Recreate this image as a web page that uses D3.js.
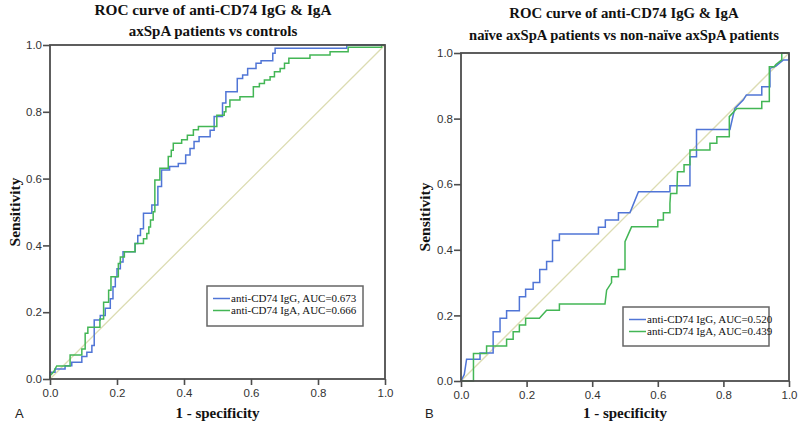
<!DOCTYPE html>
<html><head><meta charset="utf-8">
<script src="https://cdn.jsdelivr.net/npm/d3@7"></script>
<style>body{margin:0;background:#fff}svg{display:block}</style>
</head><body><svg id="c" width="800" height="425"></svg>
<script>
// ---------- data ----------
const tickValues = [0, 0.2, 0.4, 0.6, 0.8, 1.0];
const xAxisTitle = "1 - specificity";
const yAxisTitle = "Sensitivity";
const titleA = ["ROC curve of anti-CD74 IgG & IgA", "axSpA patients vs controls"];
const titleB = ["ROC curve of anti-CD74 IgG & IgA", "naïve axSpA patients vs non-naïve axSpA patients"];
const legendA = ["anti-CD74 IgG, AUC=0.673", "anti-CD74 IgA, AUC=0.666"];
const legendB = ["anti-CD74 IgG, AUC=0.520", "anti-CD74 IgA, AUC=0.439"];
const panelLetters = ["A", "B"];

// [1 - specificity, sensitivity]
const A_IgG = [[0,0],[0,0.02],[0.015,0.02],[0.015,0.03],[0.045,0.03],[0.045,0.04],[0.065,0.04],[0.065,0.05],[0.095,0.05],[0.095,0.067],[0.11,0.067],[0.11,0.08],[0.125,0.08],[0.125,0.1],[0.132,0.1],[0.132,0.177],[0.15,0.177],[0.15,0.19],[0.165,0.19],[0.165,0.212],[0.18,0.212],[0.18,0.24],[0.188,0.24],[0.188,0.276],[0.195,0.276],[0.195,0.306],[0.2,0.306],[0.2,0.33],[0.21,0.33],[0.21,0.35],[0.218,0.35],[0.218,0.381],[0.254,0.381],[0.254,0.406],[0.262,0.406],[0.262,0.43],[0.27,0.43],[0.27,0.45],[0.279,0.45],[0.279,0.496],[0.304,0.496],[0.304,0.521],[0.322,0.521],[0.322,0.576],[0.333,0.576],[0.333,0.626],[0.357,0.626],[0.357,0.636],[0.383,0.636],[0.383,0.645],[0.405,0.645],[0.405,0.671],[0.418,0.671],[0.418,0.69],[0.43,0.69],[0.43,0.711],[0.445,0.711],[0.445,0.725],[0.478,0.725],[0.478,0.745],[0.49,0.745],[0.49,0.786],[0.515,0.786],[0.515,0.826],[0.525,0.826],[0.525,0.86],[0.559,0.86],[0.559,0.9],[0.575,0.9],[0.575,0.91],[0.59,0.91],[0.59,0.93],[0.615,0.93],[0.615,0.945],[0.63,0.945],[0.63,0.953],[0.665,0.953],[0.665,0.975],[0.672,0.975],[0.672,0.99],[0.886,0.99],[0.886,1],[1,1]];
const A_IgA = [[0,0],[0,0.01],[0.01,0.02],[0.02,0.039],[0.06,0.039],[0.06,0.072],[0.095,0.072],[0.095,0.09],[0.105,0.09],[0.105,0.137],[0.113,0.137],[0.113,0.155],[0.149,0.155],[0.149,0.18],[0.16,0.18],[0.16,0.23],[0.175,0.23],[0.175,0.266],[0.182,0.266],[0.182,0.306],[0.204,0.306],[0.204,0.346],[0.21,0.346],[0.21,0.365],[0.222,0.365],[0.222,0.381],[0.254,0.381],[0.254,0.406],[0.279,0.406],[0.279,0.42],[0.289,0.42],[0.289,0.436],[0.295,0.436],[0.295,0.455],[0.3,0.455],[0.3,0.476],[0.308,0.476],[0.308,0.501],[0.313,0.501],[0.313,0.596],[0.328,0.596],[0.328,0.631],[0.353,0.631],[0.353,0.666],[0.362,0.666],[0.362,0.685],[0.368,0.685],[0.368,0.706],[0.393,0.706],[0.393,0.716],[0.41,0.716],[0.41,0.73],[0.428,0.73],[0.428,0.746],[0.443,0.746],[0.443,0.756],[0.498,0.756],[0.498,0.79],[0.52,0.79],[0.52,0.8],[0.525,0.8],[0.525,0.815],[0.537,0.815],[0.537,0.835],[0.567,0.835],[0.567,0.845],[0.607,0.845],[0.607,0.875],[0.625,0.875],[0.625,0.885],[0.64,0.885],[0.64,0.895],[0.657,0.895],[0.657,0.905],[0.67,0.905],[0.67,0.92],[0.687,0.92],[0.687,0.93],[0.7,0.93],[0.7,0.945],[0.713,0.945],[0.713,0.96],[0.776,0.96],[0.776,0.97],[0.836,0.97],[0.836,0.98],[0.89,0.98],[0.89,0.993],[0.99,0.993],[0.99,1],[1,1]];
const B_IgG = [[0,0],[0.01,0.02],[0.017,0.066],[0.058,0.066],[0.058,0.085],[0.098,0.085],[0.098,0.15],[0.119,0.15],[0.119,0.191],[0.139,0.191],[0.139,0.214],[0.178,0.214],[0.178,0.257],[0.197,0.257],[0.197,0.28],[0.22,0.28],[0.22,0.3],[0.24,0.3],[0.24,0.34],[0.261,0.34],[0.261,0.364],[0.279,0.364],[0.279,0.428],[0.3,0.428],[0.3,0.448],[0.419,0.448],[0.419,0.469],[0.44,0.469],[0.44,0.491],[0.48,0.491],[0.48,0.513],[0.515,0.513],[0.53,0.55],[0.541,0.577],[0.637,0.577],[0.637,0.595],[0.698,0.595],[0.698,0.684],[0.718,0.684],[0.718,0.767],[0.82,0.767],[0.83,0.811],[0.835,0.831],[0.861,0.857],[0.87,0.872],[0.917,0.872],[0.917,0.897],[0.942,0.897],[0.942,0.953],[0.96,0.96],[0.983,0.979],[1,0.979],[1,1]];
const B_IgA = [[0,0],[0.038,0],[0.038,0.084],[0.078,0.084],[0.078,0.107],[0.139,0.107],[0.139,0.127],[0.159,0.127],[0.159,0.15],[0.178,0.15],[0.178,0.171],[0.197,0.171],[0.197,0.191],[0.239,0.191],[0.261,0.216],[0.3,0.216],[0.3,0.235],[0.439,0.235],[0.444,0.277],[0.459,0.3],[0.459,0.318],[0.48,0.318],[0.48,0.34],[0.5,0.34],[0.5,0.425],[0.52,0.47],[0.6,0.47],[0.6,0.491],[0.617,0.491],[0.617,0.513],[0.637,0.513],[0.637,0.542],[0.639,0.572],[0.658,0.572],[0.66,0.638],[0.68,0.638],[0.68,0.659],[0.698,0.659],[0.698,0.704],[0.759,0.704],[0.759,0.725],[0.78,0.725],[0.78,0.745],[0.818,0.745],[0.818,0.806],[0.841,0.831],[0.917,0.831],[0.917,0.852],[0.94,0.852],[0.94,0.958],[0.955,0.958],[0.96,0.965],[0.978,0.979],[0.978,1],[1,1]];

// ---------- styles ----------
const C_IGG = "#5075d6", C_IGA = "#43b655", C_DIAG = "#dcdcb2", C_FRAME = "#4d4d4d";
const SERIF = "'Liberation Serif','Times New Roman',serif";
const SANS = "'Liberation Sans',Arial,sans-serif";
const svg = d3.select("#c");

const panels = [
  {x0:50, x1:385, y0:379, y1:45, title:titleA, titleY:[15,36], titleX:213, titleSize:[15.3,15], legend:legendA,
   lg:{x:207,y:286,w:156,h:40}, series:[A_IgG, A_IgA], letter:panelLetters[0], letterX:15, yTitleX:15},
  {x0:461, x1:789, y0:381, y1:53, title:titleB, titleY:[18,40], titleX:624, titleSize:[14.8,14.6], legend:legendB,
   lg:{x:623,y:307,w:146,h:39}, series:[B_IgG, B_IgA], letter:panelLetters[1], letterX:425, yTitleX:425}
];

panels.forEach(p => {
  const x = d3.scaleLinear().domain([0,1]).range([p.x0, p.x1]);
  const y = d3.scaleLinear().domain([0,1]).range([p.y0, p.y1]);
  const g = svg.append("g");

  // titles
  p.title.forEach((t,i) => g.append("text").attr("x", p.titleX).attr("y", p.titleY[i])
    .attr("text-anchor","middle").attr("font-family",SERIF)
    .attr("font-weight","bold").attr("font-size", p.titleSize[i]).attr("fill","#111").text(t));

  // diagonal
  g.append("path").attr("d", d3.line().x(d=>x(d[0])).y(d=>y(d[1]))([[0,0],[1,1]]))
    .attr("stroke", C_DIAG).attr("stroke-width",1.3).attr("fill","none");

  // curves
  const line = d3.line().x(d=>x(d[0])).y(d=>y(d[1]));
  [C_IGG, C_IGA].forEach((c,i) => g.append("path").attr("d", line(p.series[i]))
    .attr("stroke", c).attr("stroke-width",1.5).attr("fill","none"));

  // frame
  g.append("rect").attr("x", p.x0).attr("y", p.y1).attr("width", p.x1-p.x0).attr("height", p.y0-p.y1)
    .attr("fill","none").attr("stroke", C_FRAME).attr("stroke-width",1.8);

  // axes
  const ax = g.append("g").attr("transform",`translate(0,${p.y0})`)
    .call(d3.axisBottom(x).tickValues(tickValues).tickFormat(d3.format(".1f")).tickSize(6).tickPadding(4));
  const ay = g.append("g").attr("transform",`translate(${p.x0},0)`)
    .call(d3.axisLeft(y).tickValues(tickValues).tickFormat(d3.format(".1f")).tickSize(7).tickPadding(1));
  [ax, ay].forEach(a => {
    a.select(".domain").remove();
    a.selectAll("line").attr("stroke", C_FRAME).attr("stroke-width",1.6);
    a.selectAll("text").attr("font-family",SANS).attr("font-size",11.5).attr("fill","#333");
  });

  // axis titles
  g.append("text").attr("x",(p.x0+p.x1)/2).attr("y",418).attr("text-anchor","middle")
    .attr("font-family",SERIF).attr("font-weight","bold")
    .attr("font-size",15).attr("fill","#111").text(xAxisTitle);
  g.append("text").attr("transform",`translate(${p.yTitleX},${(p.y0+p.y1)/2}) rotate(-90)`)
    .attr("text-anchor","middle").attr("dy","0.35em")
    .attr("font-family",SERIF).attr("font-weight","bold")
    .attr("font-size",15.5).attr("fill","#111").text(yAxisTitle);
  g.append("text").attr("x",p.letterX).attr("y",418)
    .attr("font-family",SANS).attr("font-size",13).attr("fill","#222").text(p.letter);

  // legend
  const L = p.lg;
  g.append("rect").attr("x",L.x).attr("y",L.y).attr("width",L.w).attr("height",L.h)
    .attr("fill","#fff").attr("stroke","#666").attr("stroke-width",1.5);
  p.legend.forEach((t,i) => {
    const yy = L.y + 12.5 + i*12;
    g.append("line").attr("x1",L.x+6).attr("x2",L.x+23).attr("y1",yy).attr("y2",yy)
      .attr("stroke", i===0?C_IGG:C_IGA).attr("stroke-width",1.5);
    g.append("text").attr("x",L.x+24).attr("y",yy).attr("dy","0.35em")
      .attr("font-family",SERIF).attr("font-size",11)
      .attr("fill","#111").text(t);
  });
});
</script>
</body></html>
